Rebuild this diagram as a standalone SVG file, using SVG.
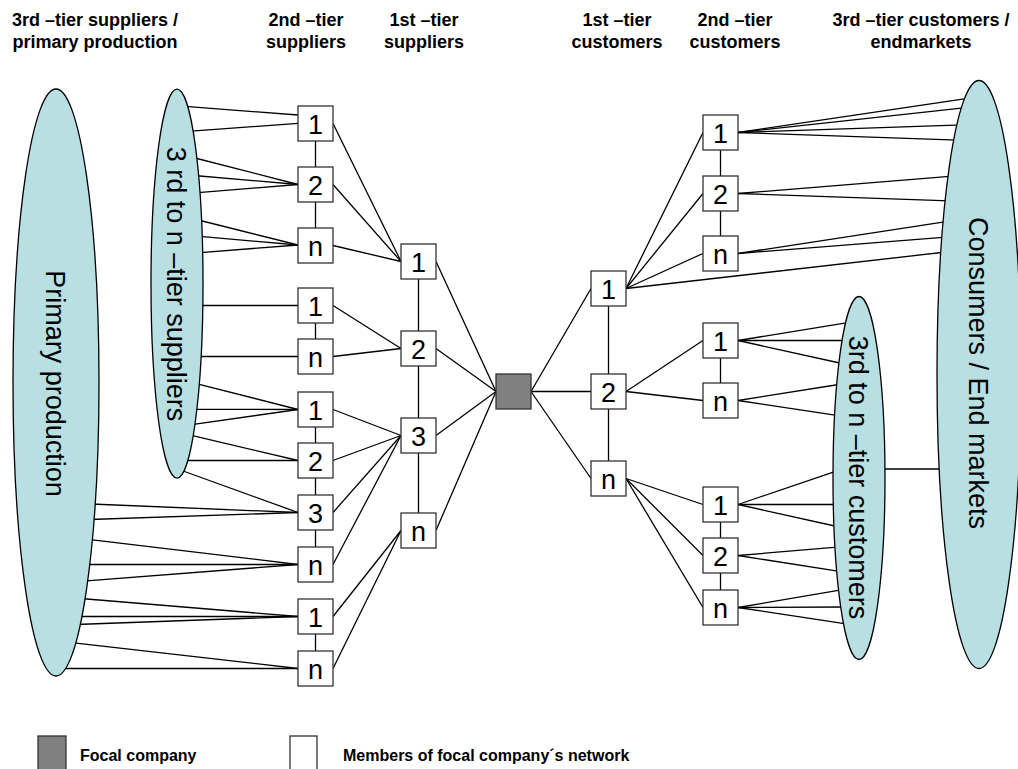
<svg xmlns="http://www.w3.org/2000/svg" width="1018" height="769" viewBox="0 0 1018 769">
  <style>
    .hdr { font-family: "Liberation Sans", Arial, sans-serif; font-weight: bold; font-size: 18px; fill: #000; text-anchor: middle; }
    .leg { font-family: "Liberation Sans", Arial, sans-serif; font-weight: bold; font-size: 16px; fill: #000; }
    .big { font-family: "Liberation Sans", Arial, sans-serif; font-size: 27px; fill: #000; text-anchor: middle; }
    .num { font-family: "Liberation Sans", Arial, sans-serif; font-size: 27px; fill: #000; text-anchor: middle; }
    .box { fill: #fff; stroke: #333; stroke-width: 1.3; }
    .focal { fill: #808080; stroke: #333; stroke-width: 1.3; }
    .ell { fill: #b8dfe2; stroke: #000; stroke-width: 1.3; }
    .con line { stroke: #000; stroke-width: 1.3; }
  </style>

  <!-- column headers -->
  <g id="headers">
    <text class="hdr" x="95" y="26">3rd –tier suppliers /</text>
    <text class="hdr" x="95" y="48">primary production</text>
    <text class="hdr" x="306" y="26">2nd –tier</text>
    <text class="hdr" x="306" y="48">suppliers</text>
    <text class="hdr" x="424" y="26">1st –tier</text>
    <text class="hdr" x="424" y="48">suppliers</text>
    <text class="hdr" x="617" y="26">1st –tier</text>
    <text class="hdr" x="617" y="48">customers</text>
    <text class="hdr" x="735" y="26">2nd –tier</text>
    <text class="hdr" x="735" y="48">customers</text>
    <text class="hdr" x="921" y="26">3rd –tier customers /</text>
    <text class="hdr" x="921" y="48">endmarkets</text>
  </g>

  <!-- connectors (drawn first so nodes cover the line ends) -->
  <g id="connectors" class="con">
    <!-- vertical links inside each tier -->
    <line x1="315.5" y1="123.5" x2="315.5" y2="245.5"/>
    <line x1="315.5" y1="305.5" x2="315.5" y2="356.5"/>
    <line x1="315.5" y1="409.5" x2="315.5" y2="564.5"/>
    <line x1="315.5" y1="616.5" x2="315.5" y2="668.5"/>
    <line x1="418.5" y1="261.5" x2="418.5" y2="530.5"/>
    <line x1="608.5" y1="288.5" x2="608.5" y2="478.5"/>
    <line x1="720.5" y1="132.5" x2="720.5" y2="253.5"/>
    <line x1="720.5" y1="340.5" x2="720.5" y2="400.5"/>
    <line x1="720.5" y1="504.5" x2="720.5" y2="607.5"/>

    <!-- 3rd to n-tier suppliers -> 2nd-tier suppliers -->
    <line x1="182" y1="106.2" x2="298" y2="115"/>
    <line x1="188" y1="131.4" x2="298" y2="123.3"/>
    <line x1="193" y1="157.5" x2="298" y2="184.5"/>
    <line x1="194" y1="175.5" x2="298" y2="184.5"/>
    <line x1="195" y1="192.8" x2="298" y2="184.5"/>
    <line x1="196.3" y1="219.5" x2="298" y2="245"/>
    <line x1="197.3" y1="236.2" x2="298" y2="245"/>
    <line x1="197.3" y1="252.8" x2="298" y2="245"/>
    <line x1="197" y1="305.5" x2="298" y2="305.5"/>
    <line x1="196" y1="356.5" x2="298" y2="356.5"/>
    <line x1="193.3" y1="382.8" x2="298" y2="409.5"/>
    <line x1="192" y1="409.4" x2="298" y2="409.5"/>
    <line x1="190" y1="424.9" x2="298" y2="409.5"/>
    <line x1="188.3" y1="434.6" x2="298" y2="460.5"/>
    <line x1="184" y1="460.5" x2="298" y2="460.5"/>
    <line x1="179" y1="469.5" x2="298" y2="512.5"/>

    <!-- primary production -> 2nd-tier suppliers -->
    <line x1="90.7" y1="504" x2="298" y2="512.5"/>
    <line x1="89.7" y1="519.5" x2="298" y2="512.5"/>
    <line x1="88.3" y1="539.3" x2="298" y2="564.5"/>
    <line x1="85.7" y1="564.5" x2="298" y2="564.5"/>
    <line x1="83.3" y1="581.2" x2="298" y2="564.5"/>
    <line x1="80.7" y1="598.5" x2="298" y2="616.5"/>
    <line x1="77.3" y1="616.5" x2="298" y2="616.5"/>
    <line x1="75.7" y1="624.5" x2="298" y2="616.5"/>
    <line x1="71.7" y1="642.6" x2="298" y2="668.5"/>
    <line x1="60.7" y1="668.5" x2="298" y2="668.5"/>

    <!-- 2nd-tier suppliers -> 1st-tier suppliers -->
    <line x1="333" y1="123.5" x2="401" y2="261.5"/>
    <line x1="333" y1="184.5" x2="401" y2="261.5"/>
    <line x1="333" y1="245.5" x2="401" y2="261.5"/>
    <line x1="333" y1="305.5" x2="401" y2="348.5"/>
    <line x1="333" y1="356.5" x2="401" y2="348.5"/>
    <line x1="333" y1="409.5" x2="401" y2="435.5"/>
    <line x1="333" y1="460.5" x2="401" y2="435.5"/>
    <line x1="333" y1="512.5" x2="401" y2="435.5"/>
    <line x1="333" y1="564.5" x2="401" y2="435.5"/>
    <line x1="333" y1="616.5" x2="401" y2="530.5"/>
    <line x1="333" y1="668.5" x2="401" y2="530.5"/>

    <!-- 1st-tier suppliers -> focal company -->
    <line x1="436" y1="261.5" x2="496" y2="391.5"/>
    <line x1="436" y1="348.5" x2="496" y2="391.5"/>
    <line x1="436" y1="435.5" x2="496" y2="391.5"/>
    <line x1="436" y1="530.5" x2="496" y2="391.5"/>

    <!-- focal company -> 1st-tier customers -->
    <line x1="531" y1="391.5" x2="591" y2="288.5"/>
    <line x1="531" y1="391.5" x2="591" y2="391.5"/>
    <line x1="531" y1="391.5" x2="591" y2="478.5"/>

    <!-- 1st-tier customers -> 2nd-tier customers -->
    <line x1="626" y1="288.5" x2="703" y2="132.5"/>
    <line x1="626" y1="288.5" x2="703" y2="193.5"/>
    <line x1="626" y1="288.5" x2="703" y2="253.5"/>
    <line x1="626" y1="288.5" x2="946" y2="252"/>
    <line x1="626" y1="391.5" x2="703" y2="340.5"/>
    <line x1="626" y1="391.5" x2="703" y2="400.5"/>
    <line x1="626" y1="478.5" x2="703" y2="504.5"/>
    <line x1="626" y1="478.5" x2="703" y2="555.5"/>
    <line x1="626" y1="478.5" x2="703" y2="607.5"/>

    <!-- 2nd-tier customers -> consumers / end markets -->
    <line x1="738" y1="132.5" x2="969.3" y2="98.1"/>
    <line x1="738" y1="132.5" x2="966" y2="107.6"/>
    <line x1="738" y1="132.5" x2="962.7" y2="124.8"/>
    <line x1="738" y1="132.5" x2="957.7" y2="140.2"/>
    <line x1="738" y1="193.5" x2="952.7" y2="176.2"/>
    <line x1="738" y1="193.5" x2="949.3" y2="200.9"/>
    <line x1="738" y1="253.5" x2="947.7" y2="221.4"/>
    <line x1="738" y1="253.5" x2="946" y2="237.2"/>

    <!-- 2nd-tier customers -> 3rd to n-tier customers -->
    <line x1="738" y1="340.5" x2="849.3" y2="322.3"/>
    <line x1="738" y1="340.5" x2="846" y2="340.5"/>
    <line x1="738" y1="340.5" x2="844.3" y2="364"/>
    <line x1="738" y1="400.5" x2="842" y2="384"/>
    <line x1="738" y1="400.5" x2="840" y2="415.9"/>
    <line x1="738" y1="504.5" x2="837.7" y2="470.7"/>
    <line x1="738" y1="504.5" x2="837.7" y2="504.5"/>
    <line x1="738" y1="504.5" x2="839.3" y2="527"/>
    <line x1="738" y1="555.5" x2="840" y2="546.8"/>
    <line x1="738" y1="555.5" x2="841" y2="571.6"/>
    <line x1="738" y1="607.5" x2="842.7" y2="589.7"/>
    <line x1="738" y1="607.5" x2="844.3" y2="607"/>
    <line x1="738" y1="607.5" x2="847.7" y2="624.2"/>

    <!-- 3rd to n-tier customers -> consumers / end markets -->
    <line x1="880" y1="469" x2="945" y2="469"/>
  </g>

  <!-- outer tiers drawn as ellipses -->
  <g id="primary-production">
    <ellipse class="ell" cx="56" cy="382.5" rx="43" ry="293.5"/>
    <text class="big" transform="translate(46 383.5) rotate(90)">Primary production</text>
  </g>
  <g id="supplier-tiers">
    <ellipse class="ell" cx="177" cy="283.7" rx="26" ry="194.5"/>
    <text class="big" transform="translate(167 284) rotate(90)">3 rd to n –tier suppliers</text>
  </g>
  <g id="consumers">
    <ellipse class="ell" cx="979" cy="374.5" rx="42" ry="294"/>
    <text class="big" transform="translate(969 373) rotate(90)">Consumers / End markets</text>
  </g>
  <g id="customer-tiers">
    <ellipse class="ell" cx="859" cy="478" rx="26" ry="181.5"/>
    <text class="big" transform="translate(849 477.5) rotate(90)">3rd to n –tier customers</text>
  </g>

  <!-- 2nd-tier suppliers -->
  <g id="s2-1a"><rect class="box" x="298" y="106" width="35" height="35"/><text class="num" x="315.5" y="133.5">1</text></g>
  <g id="s2-2a"><rect class="box" x="298" y="167" width="35" height="35"/><text class="num" x="315.5" y="194.5">2</text></g>
  <g id="s2-na"><rect class="box" x="298" y="228" width="35" height="35"/><text class="num" x="315.5" y="255.5">n</text></g>
  <g id="s2-1b"><rect class="box" x="298" y="288" width="35" height="35"/><text class="num" x="315.5" y="315.5">1</text></g>
  <g id="s2-nb"><rect class="box" x="298" y="339" width="35" height="35"/><text class="num" x="315.5" y="366.5">n</text></g>
  <g id="s2-1c"><rect class="box" x="298" y="392" width="35" height="35"/><text class="num" x="315.5" y="419.5">1</text></g>
  <g id="s2-2c"><rect class="box" x="298" y="443" width="35" height="35"/><text class="num" x="315.5" y="470.5">2</text></g>
  <g id="s2-3c"><rect class="box" x="298" y="495" width="35" height="35"/><text class="num" x="315.5" y="522.5">3</text></g>
  <g id="s2-nc"><rect class="box" x="298" y="547" width="35" height="35"/><text class="num" x="315.5" y="574.5">n</text></g>
  <g id="s2-1d"><rect class="box" x="298" y="599" width="35" height="35"/><text class="num" x="315.5" y="626.5">1</text></g>
  <g id="s2-nd"><rect class="box" x="298" y="651" width="35" height="35"/><text class="num" x="315.5" y="678.5">n</text></g>

  <!-- 1st-tier suppliers -->
  <g id="s1-1"><rect class="box" x="401" y="244" width="35" height="35"/><text class="num" x="418.5" y="271.5">1</text></g>
  <g id="s1-2"><rect class="box" x="401" y="331" width="35" height="35"/><text class="num" x="418.5" y="358.5">2</text></g>
  <g id="s1-3"><rect class="box" x="401" y="418" width="35" height="35"/><text class="num" x="418.5" y="445.5">3</text></g>
  <g id="s1-n"><rect class="box" x="401" y="513" width="35" height="35"/><text class="num" x="418.5" y="540.5">n</text></g>

  <!-- focal company -->
  <g id="focal"><rect class="focal" x="496" y="374" width="35" height="35"/></g>

  <!-- 1st-tier customers -->
  <g id="c1-1"><rect class="box" x="591" y="271" width="35" height="35"/><text class="num" x="608.5" y="298.5">1</text></g>
  <g id="c1-2"><rect class="box" x="591" y="374" width="35" height="35"/><text class="num" x="608.5" y="401.5">2</text></g>
  <g id="c1-n"><rect class="box" x="591" y="461" width="35" height="35"/><text class="num" x="608.5" y="488.5">n</text></g>

  <!-- 2nd-tier customers -->
  <g id="c2-1a"><rect class="box" x="703" y="115" width="35" height="35"/><text class="num" x="720.5" y="142.5">1</text></g>
  <g id="c2-2a"><rect class="box" x="703" y="176" width="35" height="35"/><text class="num" x="720.5" y="203.5">2</text></g>
  <g id="c2-na"><rect class="box" x="703" y="236" width="35" height="35"/><text class="num" x="720.5" y="263.5">n</text></g>
  <g id="c2-1b"><rect class="box" x="703" y="323" width="35" height="35"/><text class="num" x="720.5" y="350.5">1</text></g>
  <g id="c2-nb"><rect class="box" x="703" y="383" width="35" height="35"/><text class="num" x="720.5" y="410.5">n</text></g>
  <g id="c2-1c"><rect class="box" x="703" y="487" width="35" height="35"/><text class="num" x="720.5" y="514.5">1</text></g>
  <g id="c2-2c"><rect class="box" x="703" y="538" width="35" height="35"/><text class="num" x="720.5" y="565.5">2</text></g>
  <g id="c2-nc"><rect class="box" x="703" y="590" width="35" height="35"/><text class="num" x="720.5" y="617.5">n</text></g>

  <!-- legend -->
  <g id="legend">
    <rect class="focal" x="38" y="736" width="28" height="34"/>
    <text class="leg" x="80" y="761">Focal company</text>
    <rect class="box" x="290" y="736" width="27" height="34"/>
    <text class="leg" x="343" y="761">Members of focal company´s network</text>
  </g>
</svg>
